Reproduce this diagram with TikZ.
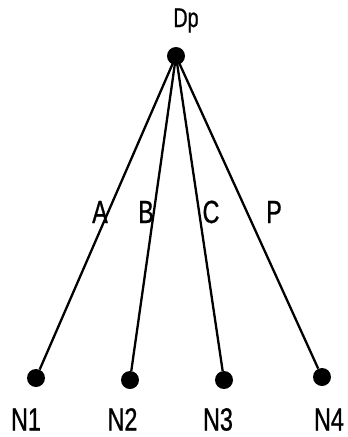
\documentclass[tikz,border=0pt]{standalone}
\usepackage{fontspec}
\setmainfont[FakeStretch=0.73,FakeBold=0.8]{Liberation Sans}
\begin{document}
\begin{tikzpicture}[x=1pt,y=-1pt,
  dot/.style={circle,fill=black,inner sep=0pt,minimum size=18pt},
  lab/.style={font=\fontsize{32}{34}\selectfont,inner sep=0pt,anchor=base},
  toplab/.style={font=\fontsize{27}{29}\selectfont,inner sep=0pt,anchor=base},
  edge/.style={line width=2.3pt,black}]
\useasboundingbox (0,0) rectangle (348,437);
\node[dot] (dp) at (176,56) {};
\node[dot] (n1) at (36,378) {};
\node[dot] (n2) at (130,380) {};
\node[dot] (n3) at (224,380) {};
\node[dot] (n4) at (322,377) {};
\draw[edge] (dp.center) -- (n1);
\draw[edge] (dp.center) -- (n2);
\draw[edge] (dp.center) -- (n3);
\draw[edge] (dp.center) -- (n4);
\node[toplab] (ldp) at (186,27) {Dp};
\node[lab] (l1) at (26,430.5) {N1};
\node[lab] (l2) at (122.5,430.5) {N2};
\node[lab] (l3) at (218,430.5) {N3};
\node[lab] (l4) at (329,430.5) {N4};
\node[lab] (ea) at (100,223) {A};
\node[lab] (eb) at (146,223) {B};
\node[lab] (ec) at (211,223) {C};
\node[lab] (ep) at (274,223) {P};
\end{tikzpicture}
\end{document}
